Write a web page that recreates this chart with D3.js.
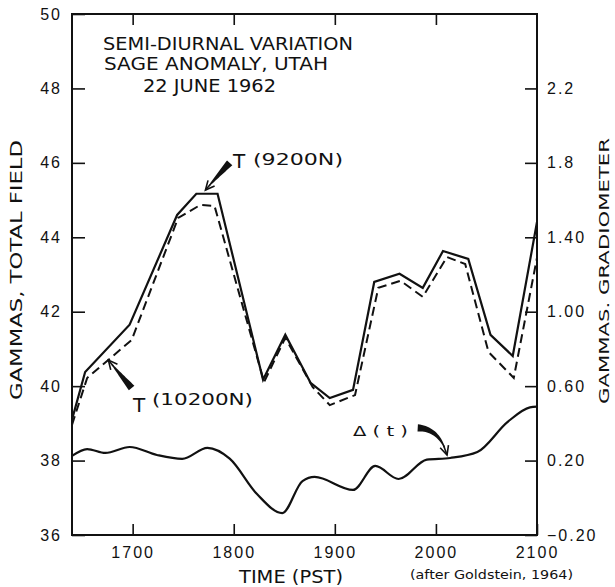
<!DOCTYPE html>
<html>
<head>
<meta charset="utf-8">
<script src="https://cdn.jsdelivr.net/npm/d3@7"></script>
<style>
  body { margin: 0; background: #fff; }
  svg { display: block; font-family: "DejaVu Sans", sans-serif; }
  .tick line { stroke: #111; stroke-width: 1.6; }
  .tick text { fill: #111; font-size: 16px; letter-spacing: 2px; }
</style>
</head>
<body>
<svg></svg>
<script>
// time is in hhmm (PST)
var times9200 = [1640, 1653, 1697, 1744, 1763, 1784, 1829, 1851, 1876, 1895, 1918, 1939, 1964, 1987, 2007, 2032, 2054, 2076, 2100];
var t9200 = [39.1, 40.38, 41.65, 44.6, 45.17, 45.17, 40.17, 41.38, 40.09, 39.68, 39.9, 42.8, 43.02, 42.64, 43.63, 43.42, 41.38, 40.81, 44.41];

var times10200 = [1640, 1655, 1699, 1745, 1767, 1781, 1830, 1851, 1878, 1895, 1920, 1943, 1965, 1987, 2011, 2029, 2052, 2077, 2100];
var t10200 = [38.96, 40.22, 41.24, 44.52, 44.87, 44.84, 40.11, 41.3, 39.98, 39.49, 39.76, 42.64, 42.83, 42.4, 43.47, 43.28, 40.92, 40.22, 43.45];

// gradiometer, right axis
var timesDelta = [1640, 1655, 1673, 1697, 1724, 1749, 1774, 1796, 1823, 1848, 1868, 1880, 1918, 1940, 1963, 1991, 2014, 2041, 2071, 2093, 2100];
var delta = [0.225, 0.262, 0.241, 0.273, 0.23, 0.209, 0.268, 0.21, 0.02, -0.082, 0.09, 0.112, 0.042, 0.171, 0.101, 0.205, 0.214, 0.246, 0.408, 0.486, 0.49];

var xTicks = [1700, 1800, 1900, 2000, 2100];
var leftTicks = [36, 38, 40, 42, 44, 46, 48, 50];
var rightTicks = [-0.2, 0.2, 0.6, 1.0, 1.4, 1.8, 2.2];
var rightTickLabels = ["\u22120.20", "0.20", "0.60", "1.00", "1.40", "1.8", "2.2"];

var margin = { top: 14, bottom: 52, left: 72, right: 78 };
var width = 615 - margin.left - margin.right;
var height = 587 - margin.top - margin.bottom;

var xscale = d3.scaleLinear().domain([1640, 2100]).range([0, width]);
var yleft = d3.scaleLinear().domain([36, 50]).range([height, 0]);
var yright = d3.scaleLinear().domain([-0.2, 2.6]).range([height, 0]);

var svg = d3.select("svg").attr("width", 615).attr("height", 587);
var graph = svg.append("g")
    .attr("transform", "translate(" + margin.left + "," + margin.top + ")");

// axes, ticks pointing inward
graph.append("g")
    .call(d3.axisLeft(yleft).tickValues(leftTicks).tickSize(-13).tickPadding(10));
graph.append("g")
    .attr("transform", "translate(" + width + ",0)")
    .call(d3.axisRight(yright).tickValues(rightTicks).tickSize(-12).tickPadding(10)
      .tickFormat(function(d, i) { return rightTickLabels[i]; }));
graph.append("g")
    .attr("transform", "translate(0," + height + ")")
    .call(d3.axisBottom(xscale).tickValues(xTicks).tickSize(-11).tickPadding(12).tickFormat(d3.format("d")));
graph.append("g")
    .call(d3.axisTop(xscale).tickValues(xTicks.slice(0, 4)).tickSize(-11).tickFormat(""));
graph.selectAll(".domain").remove();

graph.append("rect")
    .attr("width", width).attr("height", height)
    .attr("fill", "none").attr("stroke", "#111").attr("stroke-width", 2);

// lines
var line9200 = d3.line()
    .x(function(d, i) { return xscale(times9200[i]); })
    .y(function(d) { return yleft(d); });
var line10200 = d3.line()
    .x(function(d, i) { return xscale(times10200[i]); })
    .y(function(d) { return yleft(d); });
var lineDelta = d3.line()
    .x(function(d, i) { return xscale(timesDelta[i]); })
    .y(function(d) { return yright(d); })
    .curve(d3.curveMonotoneX);

graph.append("path").attr("d", line10200(t10200))
    .attr("fill", "none").attr("stroke", "#111").attr("stroke-width", 2)
    .attr("stroke-dasharray", "9,5");
graph.append("path").attr("d", line9200(t9200))
    .attr("fill", "none").attr("stroke", "#111").attr("stroke-width", 2.2)
    .attr("stroke-linejoin", "miter");
graph.append("path").attr("d", lineDelta(delta))
    .attr("fill", "none").attr("stroke", "#111").attr("stroke-width", 2.2);

// tapered arrows (tail, control, head in data units)
function arrow(x0, y0, cx, cy, x1, y1) {
  var p0 = [xscale(x0), yleft(y0)], c = [xscale(cx), yleft(cy)], p1 = [xscale(x1), yleft(y1)];
  function pt(t) {
    var a = (1 - t) * (1 - t), b = 2 * (1 - t) * t, e = t * t;
    return [a * p0[0] + b * c[0] + e * p1[0], a * p0[1] + b * c[1] + e * p1[1]];
  }
  var left = [], right = [];
  for (var k = 0; k <= 20; k++) {
    var t = k / 20 * 0.85;
    var p = pt(t), q = pt(t + 0.01);
    var dx = q[0] - p[0], dy = q[1] - p[1], len = Math.sqrt(dx * dx + dy * dy);
    var nx = -dy / len, ny = dx / len, w = 3.6 - 3.0 * (t / 0.85);
    left.push([p[0] + nx * w, p[1] + ny * w]);
    right.unshift([p[0] - nx * w, p[1] - ny * w]);
  }
  graph.append("path").attr("d", d3.line()(left.concat(right)) + "Z").attr("fill", "#111");
  var a = pt(0.9), ang = Math.atan2(p1[1] - a[1], p1[0] - a[0]);
  var hl = 10, sp = 0.45;
  graph.append("path")
      .attr("d", "M" + (p1[0] - hl * Math.cos(ang - sp)) + "," + (p1[1] - hl * Math.sin(ang - sp)) +
        "L" + p1[0] + "," + p1[1] +
        "L" + (p1[0] - hl * Math.cos(ang + sp)) + "," + (p1[1] - hl * Math.sin(ang + sp)))
      .attr("fill", "none").attr("stroke", "#111").attr("stroke-width", 1.6);
  graph.append("path").attr("d", d3.line()([pt(0.8), p1]))
      .attr("stroke", "#111").attr("stroke-width", 1.6);
}
arrow(1796, 46.0, 1784, 45.65, 1772, 45.27);
arrow(1699, 39.95, 1688, 40.3, 1676, 40.7);
arrow(1982, 38.88, 2004, 38.85, 2011, 38.15);

// texts
function label(x, y, txt, size, len) {
  var t = svg.append("text").attr("x", x).attr("y", y)
      .attr("font-size", size).attr("fill", "#111").text(txt);
  if (len) t.attr("textLength", len).attr("lengthAdjust", "spacingAndGlyphs");
  return t;
}
label(103, 50, "SEMI-DIURNAL VARIATION", 17, 250);
label(104, 70, "SAGE ANOMALY, UTAH", 17, 224);
label(143, 92, "22 JUNE 1962", 17, 133);

label(233, 168, "T", 20);
label(253, 165, "(9200N)", 16, 90);
label(133, 412, "T", 20);
label(152, 405, "(10200N)", 16, 101);
label(353, 436, "\u0394 ( t )", 14, 55);

label(239, 583, "TIME (PST)", 17, 104);
label(410, 579, "(after Goldstein, 1964)", 12, 163);

label(0, 0, "GAMMAS, TOTAL FIELD", 15, 260)
    .attr("text-anchor", "middle").attr("dy", "0.35em")
    .attr("transform", "translate(17,270) rotate(-90)");
label(0, 0, "GAMMAS. GRADIOMETER", 14, 266)
    .attr("text-anchor", "middle").attr("dy", "0.35em")
    .attr("transform", "translate(604,271) rotate(-90)");
</script>
</body>
</html>
